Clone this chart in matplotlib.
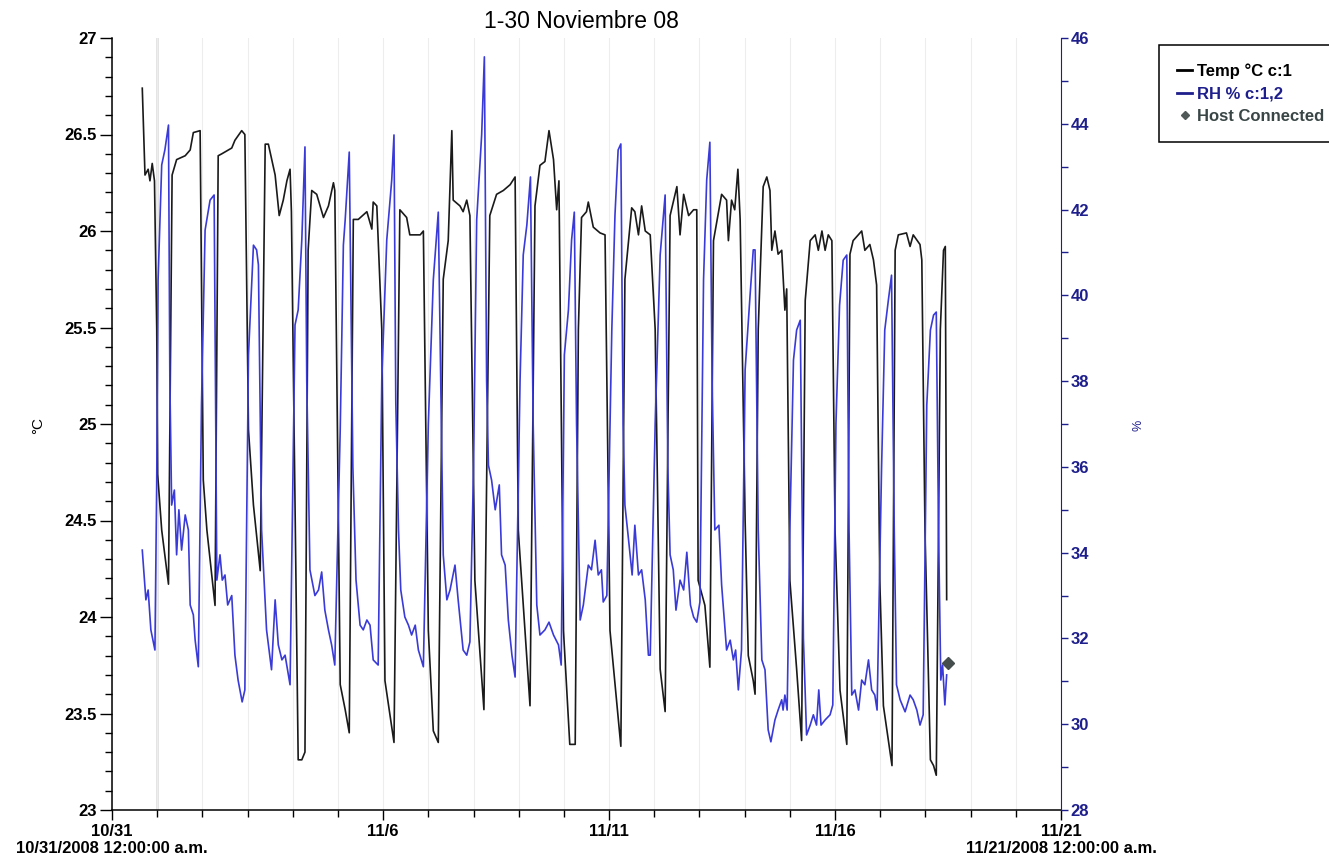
import matplotlib.pyplot as plt
from matplotlib.lines import Line2D
from matplotlib.ticker import MultipleLocator, FormatStrFormatter

plt.rcParams['font.family'] = ['Liberation Sans', 'DejaVu Sans']

# time in days since 10/31/2008 00:00
temp_t = [0.67, 0.73, 0.80, 0.84, 0.89, 0.94, 0.99, 1.01, 1.10, 1.25,
          1.33, 1.43, 1.62, 1.73, 1.80, 1.95, 2.02, 2.10, 2.28,
          2.35, 2.43, 2.65, 2.72, 2.87, 2.94, 3.02, 3.13, 3.28,
          3.39, 3.46, 3.61, 3.70, 3.79, 3.87, 3.94, 3.97, 4.12, 4.20, 4.27,
          4.34, 4.42, 4.53, 4.68, 4.79, 4.90, 4.93, 5.01, 5.05, 5.16, 5.25,
          5.34, 5.45, 5.64, 5.75, 5.78, 5.86, 5.97, 6.04, 6.24,
          6.37, 6.52, 6.59, 6.82, 6.89, 7.00, 7.11, 7.22,
          7.33, 7.44, 7.52, 7.55, 7.70, 7.77, 7.85, 7.92, 8.03, 8.23,
          8.36, 8.51, 8.66, 8.81, 8.92, 8.99, 9.25,
          9.36, 9.47, 9.58, 9.67, 9.77, 9.84, 9.89, 9.99, 10.13, 10.25,
          10.32, 10.39, 10.50, 10.54, 10.65, 10.80, 10.91, 11.02, 11.26,
          11.35, 11.50, 11.57, 11.65, 11.72, 11.80, 11.91, 12.02, 12.13, 12.24,
          12.35, 12.50, 12.57, 12.65, 12.76, 12.87, 12.94, 12.97, 13.12, 13.23,
          13.31, 13.49, 13.60, 13.64, 13.71, 13.78, 13.85, 13.90, 14.01, 14.08, 14.19, 14.23,
          14.30, 14.41, 14.49, 14.56, 14.60, 14.67, 14.74, 14.82, 14.89, 14.93,
          15.00, 15.15, 15.26,
          15.34, 15.45, 15.56, 15.63, 15.71, 15.78, 15.85, 15.93, 16.00, 16.11, 16.26,
          16.33, 16.40, 16.59, 16.66, 16.77, 16.85, 16.92, 16.99, 17.07, 17.26,
          17.33, 17.40, 17.58, 17.66, 17.73, 17.88, 17.92, 17.99, 18.11, 18.18, 18.24,
          18.33, 18.40, 18.44, 18.47]
temp_c = [26.74, 26.29, 26.32, 26.26, 26.35, 26.26, 25.49, 24.74, 24.45, 24.17,
          26.29, 26.37, 26.39, 26.42, 26.51, 26.52, 24.71, 24.45, 24.06,
          26.39, 26.40, 26.43, 26.47, 26.52, 26.50, 24.97, 24.58, 24.24,
          26.45, 26.45, 26.29, 26.08, 26.16, 26.26, 26.32, 26.10, 23.26, 23.26, 23.30,
          25.90, 26.21, 26.19, 26.07, 26.13, 26.25, 26.21, 24.50, 23.65, 23.52, 23.40,
          26.06, 26.06, 26.10, 26.01, 26.15, 26.13, 25.49, 23.67, 23.35,
          26.11, 26.07, 25.98, 25.98, 26.00, 23.93, 23.41, 23.35,
          25.75, 25.95, 26.52, 26.16, 26.13, 26.10, 26.16, 26.08, 24.19, 23.52,
          26.08, 26.19, 26.21, 26.24, 26.28, 24.45, 23.54,
          26.13, 26.34, 26.36, 26.52, 26.37, 26.11, 26.26, 23.93, 23.34, 23.34,
          25.49, 26.07, 26.10, 26.15, 26.02, 25.99, 25.98, 23.93, 23.33,
          25.75, 26.12, 26.10, 25.98, 26.13, 26.00, 25.98, 25.49, 23.73, 23.51,
          26.08, 26.23, 25.98, 26.19, 26.08, 26.11, 26.11, 24.19, 24.06, 23.74,
          25.95, 26.19, 26.16, 25.95, 26.16, 26.11, 26.32, 26.06, 24.50, 23.80, 23.67, 23.60,
          25.49, 26.23, 26.28, 26.21, 25.90, 26.00, 25.88, 25.90, 25.59, 25.70,
          24.19, 23.73, 23.36,
          25.64, 25.95, 25.98, 25.90, 26.00, 25.90, 25.98, 25.95, 24.45, 23.62, 23.34,
          25.88, 25.95, 26.00, 25.90, 25.93, 25.85, 25.72, 24.19, 23.54, 23.23,
          25.90, 25.98, 25.99, 25.92, 25.98, 25.93, 25.85, 24.45, 23.26, 23.23, 23.18,
          25.49, 25.90, 25.92, 24.09]

rh_t = [0.67, 0.75, 0.80, 0.86, 0.95, 0.99, 1.02, 1.10, 1.17, 1.25,
        1.28, 1.32, 1.38, 1.43, 1.48, 1.54, 1.62, 1.69, 1.73, 1.80, 1.84, 1.91,
        1.98, 2.06, 2.17, 2.26, 2.32, 2.39, 2.44, 2.50, 2.56, 2.65, 2.72, 2.79, 2.88, 2.94,
        3.02, 3.13, 3.20, 3.24, 3.31, 3.42, 3.53, 3.61, 3.68, 3.76, 3.83, 3.94,
        4.05, 4.12, 4.20, 4.27, 4.31, 4.38, 4.49, 4.57, 4.64, 4.71, 4.79, 4.86, 4.93,
        5.05, 5.12, 5.16, 5.25, 5.33, 5.40, 5.49, 5.56, 5.64, 5.71, 5.78, 5.89,
        5.97, 6.08, 6.19, 6.24, 6.28, 6.34, 6.39, 6.48, 6.56, 6.63, 6.71, 6.78, 6.89,
        7.00, 7.11, 7.22, 7.33, 7.41, 7.48, 7.59, 7.66, 7.77, 7.85, 7.92,
        8.00, 8.07, 8.18, 8.24, 8.29, 8.33, 8.40, 8.48, 8.57, 8.62, 8.70, 8.77, 8.85, 8.92,
        9.03, 9.10, 9.18, 9.26, 9.32, 9.40, 9.47, 9.58, 9.67, 9.77, 9.88, 9.94,
        10.01, 10.10, 10.17, 10.23, 10.28, 10.36, 10.43, 10.54, 10.61, 10.69, 10.76, 10.83, 10.87, 10.95,
        11.06, 11.13, 11.20, 11.26, 11.31, 11.35, 11.42, 11.51, 11.57, 11.65, 11.72, 11.80, 11.87, 11.91,
        12.02, 12.13, 12.24, 12.30, 12.35, 12.42, 12.48, 12.57, 12.65, 12.72, 12.80, 12.87, 12.94, 13.01,
        13.09, 13.16, 13.23, 13.28, 13.34, 13.43, 13.49, 13.60, 13.68, 13.75, 13.80, 13.86, 13.93,
        14.01, 14.12, 14.19, 14.23, 14.30, 14.38, 14.45, 14.52, 14.58, 14.67, 14.74, 14.82, 14.85, 14.89, 14.94,
        15.00, 15.08, 15.15, 15.23, 15.30, 15.37, 15.45, 15.52, 15.59, 15.64, 15.69, 15.78, 15.89, 15.95,
        16.02, 16.10, 16.18, 16.26, 16.31, 16.37, 16.44, 16.52, 16.59, 16.66, 16.74, 16.81, 16.88, 16.93,
        17.03, 17.10, 17.18, 17.25, 17.31, 17.36, 17.44, 17.55, 17.66, 17.73, 17.81, 17.88, 17.95,
        18.03, 18.11, 18.18, 18.24, 18.29, 18.34, 18.38, 18.43, 18.47]
rh_pct = [34.06, 32.90, 33.13, 32.20, 31.73, 35.70, 40.36, 43.04, 43.39, 43.97,
          38.03, 35.11, 35.46, 33.95, 35.00, 34.06, 34.88, 34.53, 32.78, 32.55, 31.96, 31.34,
          37.44, 41.52, 42.22, 42.34, 33.36, 33.95, 33.36, 33.48, 32.78, 33.00, 31.61, 31.03, 30.52, 30.80,
          38.61, 41.17, 41.06, 40.71, 34.53, 32.20, 31.27, 32.90, 31.85, 31.50, 31.61, 30.92,
          39.31, 39.66, 41.29, 43.46, 38.00, 33.60, 33.00, 33.13, 33.55, 32.66, 32.20, 31.85, 31.38,
          36.86, 41.17, 41.76, 43.34, 36.00, 33.36, 32.31, 32.20, 32.43, 32.31, 31.50, 31.38,
          38.03, 41.29, 42.69, 43.74, 37.50, 34.53, 33.13, 32.50, 32.31, 32.08, 32.31, 31.73, 31.34,
          37.00, 40.36, 41.94, 33.95, 32.90, 33.13, 33.71, 32.90, 31.73, 31.61, 31.92,
          36.00, 41.76, 43.74, 45.56, 38.00, 36.04, 35.69, 35.00, 35.58, 33.95, 33.71, 32.43, 31.61, 31.10,
          38.03, 40.94, 41.64, 42.76, 37.00, 32.78, 32.08, 32.20, 32.38, 32.08, 31.85, 31.38,
          38.61, 39.66, 41.29, 41.94, 37.00, 32.43, 32.78, 33.71, 33.60, 34.29, 33.48, 33.60, 32.85, 33.00,
          39.19, 41.87, 43.39, 43.53, 37.00, 35.11, 34.41, 33.48, 34.64, 33.48, 33.60, 32.90, 31.61, 31.61,
          37.00, 40.94, 42.34, 36.00, 33.95, 33.60, 32.66, 33.36, 33.13, 34.01, 32.78, 32.50, 32.38, 32.85,
          40.36, 42.69, 43.57, 38.00, 34.53, 34.64, 33.25, 31.73, 31.96, 31.50, 31.73, 30.80, 31.73,
          38.26, 40.01, 41.06, 41.06, 34.53, 31.50, 31.27, 29.87, 29.59, 30.10, 30.33, 30.57, 30.33, 30.68, 30.33,
          34.53, 38.49, 39.19, 39.42, 32.00, 29.75, 29.98, 30.22, 29.98, 30.80, 29.98, 30.10, 30.22, 30.45,
          37.00, 39.77, 40.82, 40.94, 34.53, 30.68, 30.80, 30.33, 31.03, 30.92, 31.50, 30.80, 30.68, 30.33,
          36.00, 39.19, 39.89, 40.47, 34.53, 30.92, 30.57, 30.29, 30.68, 30.57, 30.33, 29.98, 30.22,
          37.44, 39.19, 39.54, 39.61, 34.53, 31.03, 31.38, 30.45, 31.15]

host_t = [18.50]
host_rh = [31.43]

xtick_pos = [0, 6, 11, 16, 21]
xtick_labels = ['10/31\n10/31/2008 12:00:00 a.m.', '11/6', '11/11', '11/16',
                '11/21\n11/21/2008 12:00:00 a.m.']

navy = '#1e1e8c'
blue = '#3a3ad8'

fig = plt.figure(figsize=(13.29, 8.59), dpi=100)
ax = fig.add_axes([112 / 1329, 1 - 810 / 859, (1061 - 112) / 1329, (810 - 38) / 859])
ax2 = ax.twinx()

# day grid lines
ax.set_xticks(range(22), minor=True)
ax.grid(which='both', axis='x', color='#ededed', lw=0.8)
ax.axvline(1, color='#7a7a7a', lw=1.0, zorder=1.5)

ax.plot(temp_t, temp_c, color='#1a1a1a', lw=1.2, zorder=2)
ax2.plot(rh_t, rh_pct, color=blue, lw=1.2)
ax2.plot(host_t, host_rh, 'D', color='#454d4d', ms=6)

ax.set_xlim(0, 21)
ax.set_ylim(23, 27)
ax2.set_ylim(28, 46)

ax.set_xticks(xtick_pos)
ax.set_xticklabels(xtick_labels, fontweight='bold', fontsize=12, linespacing=1.2)
ax.yaxis.set_major_locator(MultipleLocator(0.5))
ax.yaxis.set_minor_locator(MultipleLocator(0.1))
ax.yaxis.set_major_formatter(FormatStrFormatter('%g'))
ax2.yaxis.set_major_locator(MultipleLocator(2))
ax2.yaxis.set_minor_locator(MultipleLocator(1))

ax.tick_params(axis='x', which='major', length=7, width=1, pad=3)
ax.tick_params(axis='x', which='minor', length=5, width=1)
ax.tick_params(axis='y', which='major', length=9, width=1, labelsize=12, pad=2)
ax.tick_params(axis='y', which='minor', length=5, width=1)
ax2.tick_params(axis='y', which='major', length=5, width=1, colors=navy, labelsize=12, pad=2)
ax2.tick_params(axis='y', which='minor', length=5, width=1, colors=navy)
for lbl in ax.get_yticklabels() + ax2.get_yticklabels():
    lbl.set_fontweight('bold')

for a in (ax, ax2):
    a.spines['top'].set_visible(False)
ax.spines['right'].set_visible(False)
ax2.spines['left'].set_visible(False)
ax2.spines['bottom'].set_visible(False)
ax2.spines['right'].set_color(navy)
ax.spines['left'].set_linewidth(1.1)
ax.spines['bottom'].set_linewidth(1.1)

fig.text(581 / 1329, 1 - 22 / 859, '1-30 Noviembre 08', ha='center', va='center', fontsize=16.5)
fig.text(38 / 1329, 1 - 425 / 859, '°C', rotation=90, ha='center', va='center', fontsize=11)
fig.text(1138 / 1329, 1 - 425 / 859, '%', rotation=90, ha='center', va='center', fontsize=9, color=navy)

handles = [Line2D([], [], color='black', lw=2),
           Line2D([], [], color=navy, lw=2),
           Line2D([], [], color='#505858', marker='D', ms=4, ls='none')]
leg = fig.legend(handles, ['Temp °C c:1', 'RH % c:1,2', 'Host Connected'],
                 loc='upper left', bbox_to_anchor=(1159 / 1329, 1 - 45 / 859),
                 borderaxespad=0, frameon=True, fancybox=False, edgecolor='black',
                 framealpha=1, handlelength=0.9, handletextpad=0.3, labelspacing=0.45,
                 borderpad=1.1, prop={'weight': 'bold', 'size': 12})
leg.get_frame().set_linewidth(1.1)
for txt, c in zip(leg.get_texts(), ['black', navy, '#3a4646']):
    txt.set_color(c)

fig.savefig('out.png', dpi=100)
